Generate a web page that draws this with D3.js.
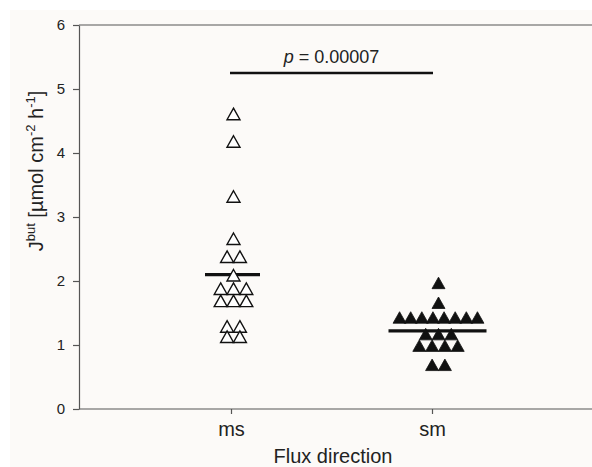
<!DOCTYPE html>
<html>
<head>
<meta charset="utf-8">
<script src="https://cdn.jsdelivr.net/npm/d3@7"></script>
<style>
  body { margin: 0; background: #fff; }
  svg { display: block; font-family: "Liberation Sans", Arial, sans-serif; }
</style>
</head>
<body>
<div id="chart"></div>
<script>
// data
const categories = ['ms', 'sm'];
const msValues = [4.61, 4.18, 3.32, 2.66, 2.38, 2.38, 2.09, 1.88, 1.88, 1.88,
                  1.69, 1.69, 1.69, 1.29, 1.29, 1.13, 1.13];
const smValues = [1.97, 1.66, 1.43, 1.43, 1.43, 1.43, 1.43, 1.43, 1.43, 1.43,
                  1.17, 1.17, 1.17, 0.99, 0.99, 0.99, 0.99, 0.69, 0.69];
const meanValues = [2.10, 1.22];
const yTicks = [0, 1, 2, 3, 4, 5, 6];
const bracketValue = 5.25;
const pText = '0.00007';

const width = 592, height = 467;
const margin = {top: 25, left: 79, bottom: 58};
const plotBottom = height - margin.bottom;

const svg = d3.select('#chart').append('svg')
  .attr('width', width)
  .attr('height', height);

svg.append('rect')
  .attr('x', 10).attr('y', 10)
  .attr('width', width - 10).attr('height', height - 10)
  .attr('fill', '#fcfaf8');

const x = d3.scalePoint().domain(categories).range([231, 432]);
const y = d3.scaleLinear().domain([0, 6]).range([plotBottom, margin.top]);

// frame: left, bottom and top (right side runs off the page)
svg.append('line')
  .attr('x1', margin.left).attr('x2', width)
  .attr('y1', y(6)).attr('y2', y(6))
  .attr('stroke', '#555').attr('stroke-width', 1.2);

const yAxis = svg.append('g')
  .attr('transform', 'translate(' + margin.left + ',0)')
  .call(d3.axisLeft(y).tickValues(yTicks).tickFormat(d3.format('d'))
    .tickSize(6).tickSizeOuter(0).tickPadding(8));
yAxis.selectAll('text').attr('font-size', 15).attr('fill', '#222')
  .style('font-family', '"Liberation Sans", Arial, sans-serif');

const xAxis = svg.append('g')
  .attr('transform', 'translate(0,' + plotBottom + ')')
  .call(d3.axisBottom(x).tickSize(5).tickSizeOuter(0).tickPadding(8));
xAxis.select('.domain').remove();
xAxis.selectAll('text').attr('font-size', 20).attr('fill', '#222')
  .style('font-family', '"Liberation Sans", Arial, sans-serif');
svg.append('line')
  .attr('x1', margin.left).attr('x2', width)
  .attr('y1', plotBottom).attr('y2', plotBottom)
  .attr('stroke', '#555').attr('stroke-width', 1.2);
svg.selectAll('.domain, .tick line').attr('stroke', '#555').attr('stroke-width', 1.2);

// axis titles
svg.append('text')
  .attr('x', 333).attr('y', 463)
  .attr('text-anchor', 'middle')
  .attr('font-size', 20).attr('fill', '#222')
  .text('Flux direction');

const yTitle = svg.append('text')
  .attr('transform', 'translate(43,171) rotate(-90)')
  .attr('text-anchor', 'middle')
  .attr('font-size', 20).attr('fill', '#222');
yTitle.append('tspan').text('J');
yTitle.append('tspan').attr('dy', -8).attr('font-size', 13).text('but');
yTitle.append('tspan').attr('dy', 8).text(' [µmol cm');
yTitle.append('tspan').attr('dy', -8).attr('font-size', 13).text('-2');
yTitle.append('tspan').attr('dy', 8).text(' h');
yTitle.append('tspan').attr('dy', -8).attr('font-size', 13).text('-1');
yTitle.append('tspan').attr('dy', 8).text(']');

// significance bracket
svg.append('line')
  .attr('x1', x('ms') - 1).attr('x2', x('sm') + 1)
  .attr('y1', y(bracketValue)).attr('y2', y(bracketValue))
  .attr('stroke', '#111').attr('stroke-width', 2.5);
const pLabel = svg.append('text')
  .attr('x', (x('ms') + x('sm')) / 2).attr('y', y(bracketValue) - 10)
  .attr('text-anchor', 'middle')
  .attr('font-size', 18).attr('fill', '#222');
pLabel.append('tspan').attr('font-style', 'italic').text('p');
pLabel.append('tspan').text(' = ' + pText);

// dot-plot layout: equal values sit side by side in a row
const groups = [
  {cat: 'ms', values: msValues, mean: meanValues[0], open: true, shift: 2.5, half: 27.5},
  {cat: 'sm', values: smValues, mean: meanValues[1], open: false, shift: 6.5, half: 49}
];

const triW = 13, triH = 11.5;
const tri = 'M0,' + (-triH / 2) + 'L' + (triW / 2) + ',' + (triH / 2) +
            'L' + (-triW / 2) + ',' + (triH / 2) + 'Z';

groups.forEach(g => {
  const cx = x(g.cat) + g.shift;
  const rows = d3.groups(g.values, v => v);
  const pts = [];
  rows.forEach(([v, list]) => {
    const n = list.length;
    const step = Math.min(12.8, 89 / n);
    list.forEach((d, i) => pts.push({v: d, dx: (i - (n - 1) / 2) * step}));
  });

  svg.append('line')
    .attr('x1', cx - g.half - 1).attr('x2', cx + g.half - 1)
    .attr('y1', y(g.mean)).attr('y2', y(g.mean))
    .attr('stroke', '#111').attr('stroke-width', 3.2);

  svg.append('g').selectAll('path')
    .data(pts)
    .join('path')
    .attr('d', tri)
    .attr('transform', d => 'translate(' + (cx + d.dx) + ',' + y(d.v) + ')')
    .attr('fill', g.open ? '#fff' : '#111')
    .attr('stroke', '#111')
    .attr('stroke-width', g.open ? 1.4 : 0.8)
    .attr('stroke-linejoin', 'miter');
});
</script>
</body>
</html>
